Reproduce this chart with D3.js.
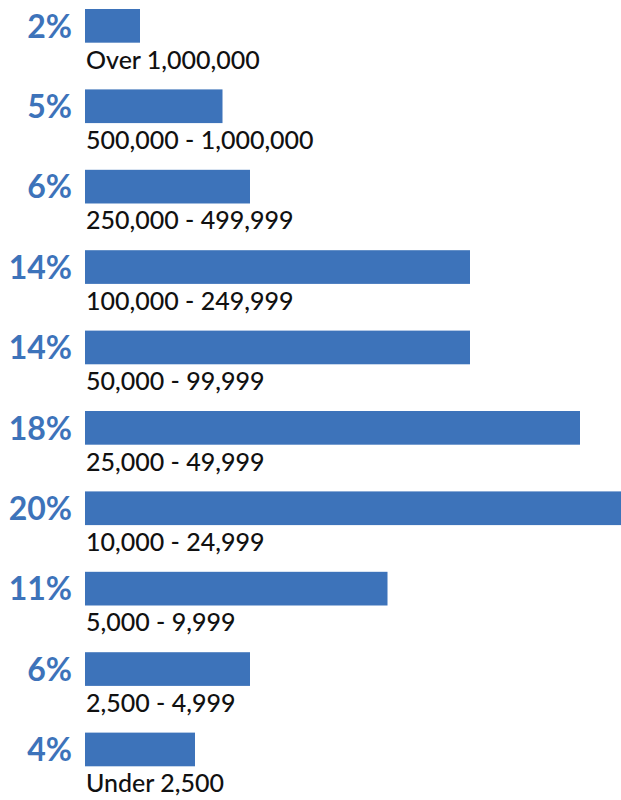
<!DOCTYPE html>
<html>
<head>
<meta charset="utf-8">
<script src="https://cdn.jsdelivr.net/npm/d3@7"></script>
<style>
  body { margin: 0; background: #fff; }
  svg { display: block; }
</style>
</head>
<body>
<div id="chart"></div>
<script>
// DATA
const categories = ["Over 1,000,000", "500,000 - 1,000,000", "250,000 - 499,999",
  "100,000 - 249,999", "50,000 - 99,999", "25,000 - 49,999", "10,000 - 24,999",
  "5,000 - 9,999", "2,500 - 4,999", "Under 2,500"]
const values = [2, 5, 6, 14, 14, 18, 20, 11, 6, 4]
const pctLabels = ["2%", "5%", "6%", "14%", "14%", "18%", "20%", "11%", "6%", "4%"]

const width = 621
const height = 800
const barLeft = 85
const blue = "#3d73ba"

const svg = d3.select("#chart")
  .append("svg")
    .attr("width", width)
    .attr("height", height)

// SCALES
const xScale = d3.scaleLinear()
  .domain([0, 20])
  .range([0, 550])

// step ~80.4px, bar ~33.7px
const yScale = d3.scaleBand()
  .domain(categories)
  .range([9, 766.3])
  .paddingInner(0.581)
  .paddingOuter(0)

const rows = svg.selectAll("g.row")
  .data(categories)
  .join("g")
    .attr("class", "row")
    .attr("transform", d => `translate(0,${yScale(d)})`)

// BARS
rows.append("rect")
  .attr("x", barLeft)
  .attr("y", 0)
  .attr("width", (d, i) => xScale(values[i]))
  .attr("height", yScale.bandwidth())
  .attr("fill", blue)

// PERCENT LABELS
rows.append("text")
  .attr("x", 72)
  .attr("y", 28.5)
  .attr("text-anchor", "end")
  .attr("font-family", "Lato")
  .attr("font-weight", "bold")
  .attr("font-size", "32px")
  .attr("fill", blue)
  .text((d, i) => pctLabels[i])

// CATEGORY LABELS
rows.append("text")
  .attr("x", barLeft + 1)
  .attr("y", 59.5)
  .attr("font-family", "Lato")
  .attr("font-weight", "500")
  .attr("font-size", "25px")
  .attr("fill", "#111")
  .text(d => d)
</script>
</body>
</html>
